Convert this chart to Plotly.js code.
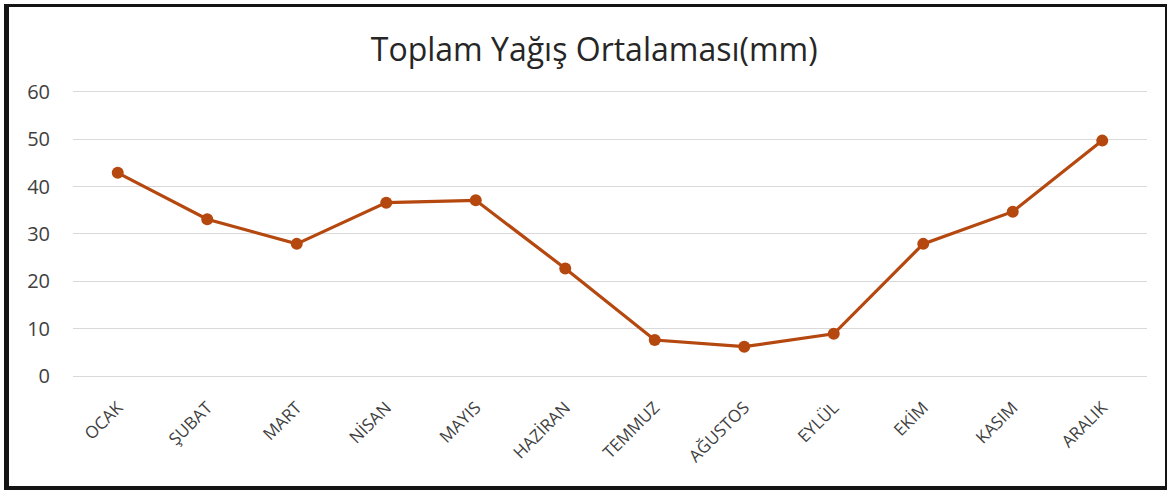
<!DOCTYPE html>
<html>
<head>
<meta charset="utf-8">
<script src="https://cdn.plot.ly/plotly-3.0.1.min.js"></script>
<style>
  html, body { margin: 0; padding: 0; background: #fff; }
  #wrap { position: relative; width: 1172px; height: 494px; overflow: hidden; }
  #chart { position: absolute; left: 0; top: 0; width: 1172px; height: 494px; }
  #frame { position: absolute; left: 4px; top: 4px; width: 1163px; height: 486px;
           border-style: solid; border-color: #141414;
           border-width: 3px 2px 4px 5px; box-sizing: border-box; pointer-events: none; }
</style>
</head>
<body>
<div id="wrap">
  <div id="chart"></div>
  <div id="frame"></div>
</div>
<script>
const months = ['OCAK', 'ŞUBAT', 'MART', 'NİSAN', 'MAYIS', 'HAZİRAN', 'TEMMUZ', 'AĞUSTOS', 'EYLÜL', 'EKİM', 'KASIM', 'ARALIK'];
const rainfall = [42.9, 33.1, 27.9, 36.6, 37.1, 22.7, 7.6, 6.2, 8.9, 27.9, 34.7, 49.7];
const yTicks = [0, 10, 20, 30, 40, 50, 60];
const chartTitle = 'Toplam Yağış Ortalaması(mm)';

const trace = {
  type: 'scatter',
  mode: 'lines+markers',
  x: months,
  y: rainfall,
  line: { color: '#B5480F', width: 3.2 },
  marker: { color: '#B5480F', size: 12 },
  hoverinfo: 'x+y'
};

const layout = {
  width: 1172,
  height: 494,
  autosize: false,
  paper_bgcolor: '#ffffff',
  plot_bgcolor: '#ffffff',
  showlegend: false,
  margin: { l: 73, r: 25, t: 89, b: 118 },
  font: { family: 'Open Sans, sans-serif', color: '#404040' },
  title: {
    text: chartTitle,
    font: { family: 'Open Sans, sans-serif', size: 32, color: '#262626' },
    x: 0.507, xanchor: 'center', y: 0.9, yanchor: 'middle'
  },
  xaxis: {
    type: 'category',
    range: [-0.5, 11.5],
    tickangle: -45,
    tickfont: { size: 17, color: '#404040' },
    showgrid: false,
    showline: true,
    linecolor: '#d9d9d9',
    linewidth: 1,
    ticks: 'outside',
    ticklen: 14,
    tickcolor: 'rgba(0,0,0,0)',
    zeroline: false
  },
  yaxis: {
    range: [0, 60.6],
    tickvals: yTicks,
    tickfont: { size: 20, color: '#404040' },
    showgrid: true,
    gridcolor: '#d9d9d9',
    gridwidth: 1,
    zeroline: false,
    showline: false,
    ticks: 'outside',
    ticklen: 18,
    tickcolor: 'rgba(0,0,0,0)'
  }
};

Plotly.newPlot('chart', [trace], layout, { displayModeBar: false, staticPlot: true });
</script>
</body>
</html>
